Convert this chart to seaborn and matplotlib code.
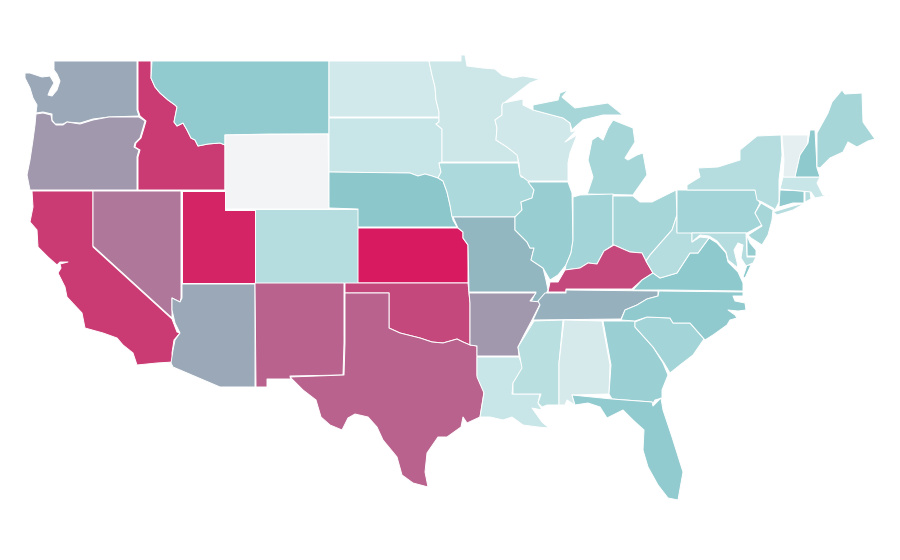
import matplotlib
matplotlib.use('Agg')
import matplotlib.pyplot as plt
from matplotlib.collections import PolyCollection
from matplotlib.colors import Normalize
import seaborn as sns

# values, 0 = palest, 100 = full crimson
states = ['WA', 'OR', 'CA', 'NV', 'ID', 'MT', 'WY', 'UT', 'AZ', 'CO', 'NM', 'ND', 'SD', 'NE', 'KS', 'OK', 'TX',
          'MN', 'IA', 'MO', 'AR', 'LA', 'WI', 'IL', 'MS', 'MI', 'IN', 'OH', 'KY', 'TN', 'AL', 'GA', 'FL', 'SC',
          'NC', 'VA', 'WV', 'PA', 'NY', 'NJ', 'DE', 'MD', 'CT', 'RI', 'MA', 'VT', 'NH', 'ME']
values = [59, 64, 91, 73, 91, 47, 0, 97, 59, 30, 79, 16, 21, 50, 100, 87, 79,
          18, 34, 55, 64, 21, 17, 44, 28, 37, 39, 37, 87, 57, 14, 43, 47, 39,
          48, 49, 30, 39, 30, 37, 46, 30, 48, 30, 21, 7, 49, 37]

# state outlines, traced in image pixels (no map files available here)
outlines = {
    'WA': [[(54, 61), (137, 61), (137, 110), (139, 116), (109, 117), (93, 119), (80, 123), (67, 122), (63, 124), (55, 124),
            (52, 120), (52, 114), (43, 112), (36, 113), (37, 105), (33, 98), (30, 88), (25, 78), (25, 73), (30, 73), (42, 77),
            (50, 76), (54, 83), (50, 90), (48, 95), (52, 96), (57, 90), (60, 81), (57, 74), (54, 70)]],
    'OR': [[(36, 114), (43, 113), (51, 115), (52, 121), (56, 125), (63, 125), (67, 122), (80, 124), (93, 120), (109, 117),
            (139, 117), (145, 121), (143, 128), (140, 138), (135, 143), (134, 147), (139, 150), (137, 157), (137, 190),
            (30, 190), (27, 175), (30, 160), (33, 140), (35, 125)]],
    'ID': [[(138, 61), (151, 61), (151, 78), (155, 87), (160, 93), (168, 100), (175, 105), (177, 107), (176, 112), (174, 122),
            (177, 126), (183, 123), (187, 130), (191, 138), (195, 140), (198, 146), (208, 144), (220, 143), (225, 145),
            (225, 190), (138, 190), (138, 157), (140, 150), (135, 147), (136, 143), (141, 138), (144, 128), (146, 121),
            (140, 116), (138, 110)]],
    'MT': [[(152, 61), (329, 61), (329, 134), (300, 134), (270, 134), (225, 135), (225, 145), (220, 143), (208, 144), (198, 146),
            (195, 140), (191, 138), (187, 130), (183, 123), (177, 126), (174, 122), (176, 112), (177, 107), (175, 105),
            (168, 100), (160, 93), (155, 87), (151, 78)]],
    'WY': [[(225, 135), (328, 134), (329, 209), (225, 209)]],
    'ND': [[(329, 61), (429, 61), (432, 75), (435, 87), (436, 100), (439, 112), (439, 117), (329, 117)]],
    'SD': [[(329, 118), (439, 118), (439, 122), (436, 124), (442, 129), (442, 162), (439, 163), (441, 172), (438, 178),
            (432, 176), (425, 174), (418, 176), (410, 173), (329, 172)]],
    'NE': [[(329, 172), (410, 173), (418, 176), (425, 174), (432, 176), (438, 178), (443, 181), (447, 192), (450, 205),
            (453, 220), (457, 227), (358, 227), (358, 209), (329, 208)]],
    'CO': [[(255, 209), (358, 209), (358, 283), (255, 283)]],
    'KS': [[(358, 228), (458, 228), (463, 232), (463, 238), (468, 245), (468, 283), (358, 283)]],
    'MN': [[(429, 61), (461, 61), (461, 55), (465, 55), (467, 66), (483, 68), (495, 69), (502, 75), (513, 78), (523, 76),
            (540, 79), (530, 83), (517, 93), (504, 103), (502, 105), (502, 115), (495, 120), (497, 128), (496, 140), (507, 147),
            (518, 155), (518, 162), (442, 162), (442, 129), (436, 124), (439, 122), (439, 112), (436, 100), (435, 87), (432, 75)]],
    'WI': [[(503, 103), (523, 99), (523, 105), (533, 110), (563, 118), (570, 123), (571, 132), (577, 130), (565, 142),
            (577, 135), (570, 153), (568, 163), (568, 181), (528, 181), (520, 175), (519, 163), (517, 155), (507, 147),
            (496, 140), (497, 128), (495, 120), (502, 115), (502, 105)]],
    'IA': [[(439, 163), (518, 163), (521, 177), (527, 178), (534, 190), (532, 198), (521, 202), (522, 210), (515, 217),
            (452, 217), (450, 205), (447, 192), (443, 181), (438, 178), (441, 172)]],
    'MO': [[(453, 217), (515, 217), (515, 230), (527, 242), (530, 248), (534, 248), (531, 260), (543, 268), (546, 280),
            (548, 290), (542, 302), (531, 302), (536, 292), (469, 292), (468, 245), (463, 238), (463, 232), (458, 228)]],
    'AR': [[(469, 293), (536, 293), (530, 301), (541, 302), (532, 320), (524, 335), (518, 347), (519, 356), (477, 356),
            (477, 346), (470, 345), (470, 303)]],
    'OK': [[(345, 283), (468, 283), (470, 303), (470, 345), (463, 342), (457, 339), (443, 343), (432, 342), (420, 338),
            (400, 333), (389, 328), (389, 293), (345, 293)]],
    'NM': [[(255, 283), (344, 283), (344, 343), (343, 375), (290, 376), (291, 379), (267, 379), (267, 387), (256, 387)]],
    'TX': [[(345, 293), (389, 293), (389, 328), (400, 333), (420, 338), (432, 342), (443, 343), (457, 339), (463, 342),
            (470, 345), (477, 346), (477, 375), (484, 392), (480, 417), (467, 423), (463, 417), (461, 427), (447, 437),
            (438, 437), (427, 453), (425, 472), (428, 487), (413, 483), (402, 475), (397, 457), (383, 440), (377, 427),
            (368, 417), (355, 414), (348, 418), (342, 430), (330, 425), (321, 417), (316, 400), (303, 390), (290, 377),
            (344, 375), (345, 343)]],
    'NV': [[(93, 191), (181, 191), (181, 298), (180, 302), (172, 298), (172, 318), (93, 246)]],
    'UT': [[(182, 191), (225, 191), (225, 210), (255, 210), (255, 283), (182, 283)]],
    'CA': [[(32, 191), (93, 191), (93, 247), (172, 319), (177, 332), (180, 333), (174, 340), (172, 353), (173, 362), (157, 363),
            (137, 365), (133, 353), (123, 345), (117, 338), (103, 333), (85, 328), (82, 313), (67, 297), (65, 287), (58, 273),
            (61, 268), (60, 264), (68, 262), (60, 262), (57, 265), (48, 257), (38, 247), (37, 230), (30, 222), (33, 207)]],
    'AZ': [[(182, 284), (255, 284), (255, 387), (220, 387), (173, 367), (171, 363), (173, 350), (175, 340), (180, 333),
            (175, 323), (172, 310), (172, 298), (180, 302), (182, 298)]],
    'IL': [[(528, 182), (568, 182), (572, 193), (573, 240), (571, 253), (566, 265), (558, 275), (550, 280), (543, 268),
            (531, 260), (534, 248), (530, 248), (527, 242), (515, 230), (515, 217), (522, 210), (521, 202), (532, 198), (534, 190)]],
    'IN': [[(573, 197), (580, 195), (613, 194), (613, 245), (604, 251), (597, 264), (588, 263), (580, 268), (565, 270),
            (566, 265), (571, 253), (573, 240)]],
    'MI': [[(587, 194), (633, 195), (635, 192), (647, 175), (643, 153), (637, 155), (628, 160), (625, 158), (635, 142),
            (633, 128), (613, 120), (608, 128), (603, 140), (598, 136), (592, 140), (588, 160), (593, 177), (588, 192)],
           [(533, 105), (558, 100), (560, 93), (568, 90), (562, 97), (575, 108), (608, 103), (623, 115), (603, 115), (583, 120),
            (575, 127), (572, 130), (570, 123), (563, 118), (533, 110)]],
    'OH': [[(613, 196), (633, 196), (640, 202), (652, 202), (676, 190), (677, 215), (672, 230), (657, 247), (650, 255),
            (646, 261), (642, 253), (630, 252), (623, 249), (614, 245), (613, 245)]],
    'KY': [[(548, 292), (550, 282), (558, 282), (565, 270), (580, 268), (588, 263), (597, 264), (604, 251), (614, 245),
            (623, 249), (630, 252), (642, 253), (646, 261), (653, 273), (642, 280), (632, 289), (566, 289), (566, 292)]],
    'TN': [[(545, 293), (566, 293), (566, 290), (658, 291), (658, 296), (647, 299), (637, 305), (625, 310), (621, 319),
            (533, 320), (540, 305), (538, 301)]],
    'MS': [[(534, 321), (563, 320), (559, 363), (559, 405), (547, 405), (542, 407), (538, 403), (541, 394), (513, 394),
            (513, 383), (522, 368), (518, 347)]],
    'AL': [[(564, 320), (602, 321), (610, 365), (609, 394), (572, 395), (575, 405), (567, 400), (565, 405), (559, 405), (559, 363)]],
    'LA': [[(477, 357), (519, 357), (523, 368), (513, 383), (512, 394), (540, 394), (538, 403), (542, 410), (532, 408),
            (542, 422), (549, 428), (538, 427), (523, 425), (512, 417), (503, 420), (490, 417), (480, 417), (484, 393), (477, 377)]],
    'GA': [[(603, 321), (635, 321), (635, 327), (653, 347), (663, 363), (668, 375), (662, 390), (662, 398), (655, 400),
            (652, 405), (652, 402), (612, 399), (609, 394), (611, 365)]],
    'SC': [[(635, 322), (647, 317), (670, 318), (673, 323), (690, 323), (704, 339), (693, 355), (680, 365), (670, 373),
            (664, 363), (653, 347), (635, 327)]],
    'NC': [[(621, 320), (625, 310), (637, 305), (647, 299), (658, 296), (659, 291), (743, 292), (743, 296), (733, 296),
            (735, 301), (745, 303), (746, 310), (738, 311), (728, 310), (735, 315), (737, 318), (730, 320), (727, 325),
            (713, 335), (705, 340), (690, 323), (673, 323), (670, 318), (647, 317), (635, 321)]],
    'VA': [[(633, 290), (642, 280), (653, 273), (660, 278), (677, 273), (690, 253), (698, 253), (709, 238), (717, 243),
            (726, 253), (728, 262), (738, 272), (743, 283), (743, 291), (667, 290)],
           [(747, 265), (751, 265), (745, 278), (743, 277)]],
    'WV': [[(646, 261), (650, 255), (657, 247), (672, 230), (677, 215), (677, 232), (692, 232), (692, 242), (700, 237),
            (709, 238), (698, 253), (690, 253), (677, 273), (660, 278), (653, 273)]],
    'PA': [[(677, 190), (687, 190), (755, 190), (758, 200), (760, 203), (755, 213), (762, 225), (747, 233), (677, 233)]],
    'NY': [[(687, 185), (700, 177), (698, 168), (718, 167), (740, 160), (740, 150), (757, 136), (781, 135), (782, 155),
            (779, 180), (779, 202), (775, 210), (773, 208), (762, 202), (757, 200), (755, 190), (687, 190)],
           [(773, 212), (793, 206), (805, 203), (793, 210), (777, 215)]],
    'NJ': [[(761, 203), (773, 210), (772, 220), (768, 235), (762, 245), (751, 238), (748, 235), (762, 226), (755, 213)]],
    'DE': [[(747, 235), (750, 243), (756, 250), (756, 256), (747, 256)]],
    'MD': [[(692, 233), (746, 233), (747, 257), (756, 257), (753, 263), (746, 266), (741, 258), (743, 245), (738, 243),
            (734, 250), (737, 262), (738, 268), (728, 260), (726, 252), (717, 241), (709, 236), (700, 235), (692, 242)]],
    'CT': [[(780, 190), (804, 191), (804, 203), (793, 203), (779, 207)]],
    'RI': [[(805, 191), (810, 191), (811, 199), (805, 202)]],
    'MA': [[(783, 177), (815, 177), (820, 177), (817, 183), (823, 195), (830, 195), (820, 197), (815, 198), (811, 192), (780, 189)]],
    'VT': [[(782, 135), (808, 135), (807, 147), (800, 155), (795, 177), (783, 177), (784, 160)]],
    'NH': [[(810, 130), (815, 130), (817, 168), (820, 177), (795, 177), (800, 155), (808, 143)]],
    'ME': [[(817, 133), (828, 113), (832, 102), (842, 90), (845, 94), (862, 93), (863, 122), (870, 132), (875, 139), (868, 141),
            (857, 147), (848, 142), (843, 152), (830, 158), (820, 168), (817, 167)]],
    'FL': [[(572, 395), (612, 399), (652, 402), (653, 406), (661, 398), (663, 410), (672, 437), (683, 472), (678, 500),
            (668, 498), (658, 485), (648, 467), (643, 450), (644, 430), (633, 420), (623, 410), (607, 418), (600, 407), (588, 403), (575, 405)]],
}

sns.set_style('white')
cmap = sns.blend_palette(['#f3f4f6', '#bfe2e4', '#8cc8cc', '#b27196', '#d81b60'], as_cmap=True)

fig, ax = plt.subplots(figsize=(9, 5.6), dpi=100)
fig.subplots_adjust(0, 0, 1, 1)

rings = []
ring_values = []
for state, value in zip(states, values):
    for ring in outlines[state]:
        rings.append(ring)
        ring_values.append(value)

shapes = PolyCollection(rings, array=ring_values, cmap=cmap, norm=Normalize(0, 100),
                        edgecolors='white', linewidths=0.7)
ax.add_collection(shapes)

ax.set_xlim(0, 900)
ax.set_ylim(560, 0)
ax.axis('off')

fig.savefig('out.png', dpi=100, facecolor='white')
